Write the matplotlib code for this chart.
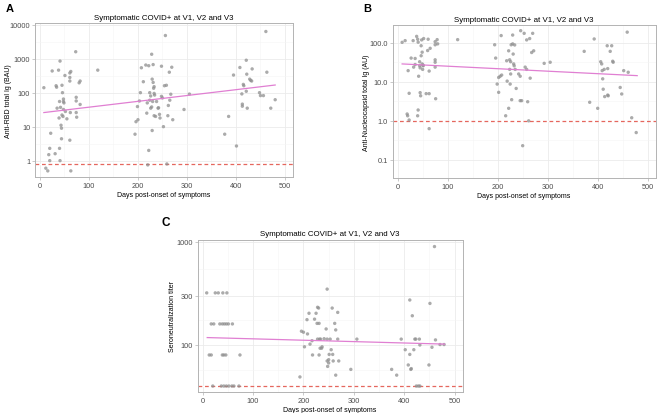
import numpy as np
import matplotlib
matplotlib.use('Agg')
from matplotlib import pyplot as plt
from matplotlib.ticker import FixedLocator, FixedFormatter, NullFormatter

plt.rcParams['font.family'] = ['Liberation Sans', 'DejaVu Sans']

TITLE = 'Symptomatic COVID+ at V1, V2 and V3'
XLABEL = 'Days post-onset of symptoms'

# panel A : anti-RBD total Ig (BAU)
a_days = [8, 12, 16, 18, 20, 20, 22, 25, 31, 33, 34, 35, 38, 39, 40, 40, 41, 41, 42, 43,
          44, 44, 45, 45, 46, 47, 48, 48, 49, 48, 51, 52, 55, 61, 61, 61, 61, 62, 63, 63,
          73, 74, 74, 74, 75, 80, 82, 82, 118,
          194, 196, 200, 199, 203, 205, 207, 211, 216, 218, 219, 220, 222, 222, 224, 224,
          226, 226, 228, 228, 229, 229, 230, 231, 231, 232, 233, 233, 234, 233, 236, 238,
          241, 242, 244, 245, 248, 248, 250, 252, 254, 256, 258, 259, 261, 262, 264, 265,
          267, 269, 271, 294, 305,
          377, 385, 395, 401, 408, 412, 413, 413, 415, 416, 421, 422, 421, 423, 428, 430,
          432, 433, 448, 450, 456, 461, 463, 471, 480]
a_vals = [140, 0.6, 0.5, 1.5, 2.3, 1.0, 6.4, 435, 1.6, 160, 145, 35, 460, 18, 55, 2.3, 850, 1.0, 37, 11,
          9, 4.4, 165, 22, 100, 20, 55, 32, 50, 65, 320, 28, 17, 380, 280, 220, 4, 26, 0.5, 420,
          1600, 73, 57, 26, 19, 195, 220, 45, 460,
          6, 14, 16, 39, 57, 100, 540, 210, 650, 25, 50, 0.75, 620, 2, 60, 100,
          80, 35, 1350, 38, 7.7, 250, 55, 670, 200, 135, 150, 95, 85, 21, 20, 55,
          35, 36, 23, 18, 600, 78, 70, 10, 160, 4800, 165, 0.8, 21, 42, 400, 60,
          90, 560, 16, 32, 91,
          6, 20, 330, 2.7, 550, 92, 46, 40, 175, 160, 900, 350, 110, 35, 250, 230,
          220, 500, 100, 82, 82, 6300, 400, 35, 62]
a_cutoff = 0.8
a_fit_days = [8, 480]
a_fit_vals = [26, 168]

# panel B : anti-nucleocapsid total Ig (AU)
b_days = [9, 15, 19, 20, 21, 23, 23, 27, 31, 32, 35, 35, 38, 40, 40, 41, 41, 42, 44, 44,
          45, 45, 46, 47, 47, 48, 49, 49, 50, 51, 51, 52, 57, 60, 61, 63, 63, 63, 65, 75,
          75, 75, 75, 75, 76, 79, 80, 120,
          194, 196, 199, 202, 202, 205, 207, 208, 216, 218, 219, 222, 222, 224, 224, 225,
          226, 226, 227, 228, 230, 230, 231, 232, 233, 234, 235, 237, 242, 245, 245, 246,
          248, 250, 253, 255, 258, 258, 260, 262, 264, 265, 268, 270, 272, 293, 305,
          373, 384, 393, 400, 406, 408, 409, 410, 411, 413, 414, 419, 420, 420, 421, 425,
          428, 430, 431, 445, 448, 452, 459, 461, 468, 477]
b_vals = [104, 115, 1.5, 1.35, 19.5, 5.1, 1.05, 41, 115, 24, 28, 40, 148, 125, 1.35, 1.9, 105, 14, 26, 33,
          23, 5.3, 4.4, 47, 85, 120, 58, 29, 21, 26, 27, 130, 5, 64, 125, 19, 5, 0.63, 73, 108,
          90, 37, 32, 24, 3.7, 122, 95, 122,
          90, 41, 8.8, 13, 5.4, 14, 155, 15, 1.35, 35, 10.5, 63, 2.1, 37, 21, 8.8,
          33, 16, 90, 3.5, 160, 95, 52, 29, 26, 89, 21, 6.8, 16, 14, 3.3, 207,
          3.3, 0.23, 177, 24, 120, 21, 3.1, 1.0, 130, 12.5, 57, 177, 63, 30, 32,
          61, 3, 127, 2.1, 33, 29, 19.5, 12, 6.5, 21, 4.2, 85, 22, 4.6, 4.4, 61,
          85, 34, 32, 7.2, 4.9, 19.5, 190, 17.7, 1.2, 0.5]
b_cutoff = 1.0
b_fit_days = [9, 479]
b_fit_vals = [29, 14.5]

# panel C : seroneutralization titer
c_days = [8, 25, 31, 40, 48,
          17, 22, 34, 39, 43, 47, 51, 59,
          13, 17, 39, 42, 46, 74,
          20, 37, 42, 47, 52, 58, 62, 72,
          193, 196, 200, 202, 207, 208, 211, 213, 217, 218, 222, 225, 228, 230, 227, 231,
          228, 232, 234, 233, 237, 231, 241, 236, 245, 247, 247, 247, 248, 250, 250, 251,
          253, 255, 257, 258, 259, 262, 264, 264, 268, 268, 270, 294, 306,
          375, 385, 394, 402, 408, 411, 411, 413, 414, 416, 419, 421, 423, 424, 428, 431,
          430, 431, 449, 451, 455, 460, 462, 471, 479]
c_vals = [320, 320, 320, 320, 320,
          160, 160, 160, 160, 160, 160, 160, 160,
          80, 80, 80, 80, 80, 80,
          40, 40, 40, 40, 40, 40, 40, 40,
          49, 136, 133, 96, 176, 128, 203, 102, 110, 80, 178, 203, 232, 228, 162, 162,
          114, 114, 114, 93, 96, 80, 115, 93, 143, 348, 114, 70, 62, 72, 67, 81,
          114, 90, 228, 81, 70, 162, 140, 51, 207, 114, 70, 58, 114,
          58, 51, 114, 90, 64, 273, 81, 58, 59, 192, 90, 114, 114, 40, 40, 40,
          114, 100, 64, 253, 95, 900, 112, 101, 101]
c_cutoff = 40
c_fit_days = [9, 480]
c_fit_vals = [118, 102]

x_ticks = [0, 100, 200, 300, 400, 500]

GRID = '#EBEBEB'
GRID_MINOR = '#F5F5F5'
BORDER = '#B3B3B3'
POINT = '#8F8F8F'
FIT = '#E07FD2'
CUT = '#E5675E'


def draw_panel(ax, days, vals, cutoff, fit_days, fit_vals, ylim, yticks, ylabels, yminor,
               ylabel, label_x):
    ax.set_yscale('log')
    ax.set_xlim(-10, 516)
    ax.set_ylim(*ylim)
    ax.xaxis.set_major_locator(FixedLocator(x_ticks))
    ax.xaxis.set_minor_locator(FixedLocator([50, 150, 250, 350, 450]))
    ax.yaxis.set_major_locator(FixedLocator(yticks))
    ax.yaxis.set_major_formatter(FixedFormatter(ylabels))
    ax.yaxis.set_minor_locator(FixedLocator(yminor))
    ax.yaxis.set_minor_formatter(NullFormatter())
    ax.grid(True, which='major', color=GRID, lw=0.6)
    ax.grid(True, which='minor', color=GRID_MINOR, lw=0.4)
    ax.set_axisbelow(True)
    for s in ax.spines.values():
        s.set_color(BORDER)
        s.set_linewidth(0.7)
    ax.tick_params(which='major', length=2, width=0.5, color=BORDER,
                   labelsize=5.3, labelcolor='#4D4D4D', pad=1.5)
    ax.tick_params(which='minor', length=0)

    # white underlay so the cut-off dashes do not blend with the grid
    ax.axhline(cutoff, color='white', lw=0.9, zorder=1.5)
    ax.axhline(cutoff, color=CUT, lw=0.9, ls=(0, (3, 2.2)), zorder=2)
    ax.scatter(days, vals, s=6, color=POINT, alpha=0.75, edgecolors='none', zorder=3)
    # regression line (log scale)
    ax.plot(fit_days, fit_vals, color=FIT, lw=0.9, zorder=4)

    ax.set_title(TITLE, fontsize=5.7, pad=3)
    ax.set_xlabel(XLABEL, fontsize=5.0, labelpad=1.5)
    ax.set_ylabel(ylabel, fontsize=5.0)
    ax.yaxis.set_label_coords(label_x, 0.5)


fig = plt.figure(figsize=(6.61, 4.14), dpi=100)

ax_a = fig.add_axes([0.053, 0.570, 0.390, 0.372])
draw_panel(ax_a, a_days, a_vals, a_cutoff, a_fit_days, a_fit_vals, (0.33, 11200),
           [1, 10, 100, 1000, 10000], ['1', '10', '100', '1000', '10000'],
           [10 ** 0.5, 10 ** 1.5, 10 ** 2.5, 10 ** 3.5],
           'Anti-RBD total Ig (BAU)', -0.09)

ax_b = fig.add_axes([0.594, 0.5676, 0.398, 0.3696])
draw_panel(ax_b, b_days, b_vals, b_cutoff, b_fit_days, b_fit_vals, (0.034, 290),
           [0.1, 1, 10, 100], ['0.1', '1.0', '10.0', '100.0'],
           [10 ** -0.5, 10 ** 0.5, 10 ** 1.5],
           'Anti-Nucleocapsid total Ig (AU)', -0.085)

ax_c = fig.add_axes([0.299, 0.0507, 0.401, 0.368])
draw_panel(ax_c, c_days, c_vals, c_cutoff, c_fit_days, c_fit_vals, (35, 1050),
           [100, 300, 1000], ['100', '300', '1000'],
           [10 ** 1.761, 10 ** 2.239, 10 ** 2.739],
           'Seroneutralization titer', -0.082)

fig.text(0.008, 0.99, 'A', fontsize=8, fontweight='bold', va='top')
fig.text(0.549, 0.99, 'B', fontsize=8, fontweight='bold', va='top')
fig.text(0.244, 0.477, 'C', fontsize=8.5, fontweight='bold', va='top')

fig.savefig('out.png', dpi=100)
